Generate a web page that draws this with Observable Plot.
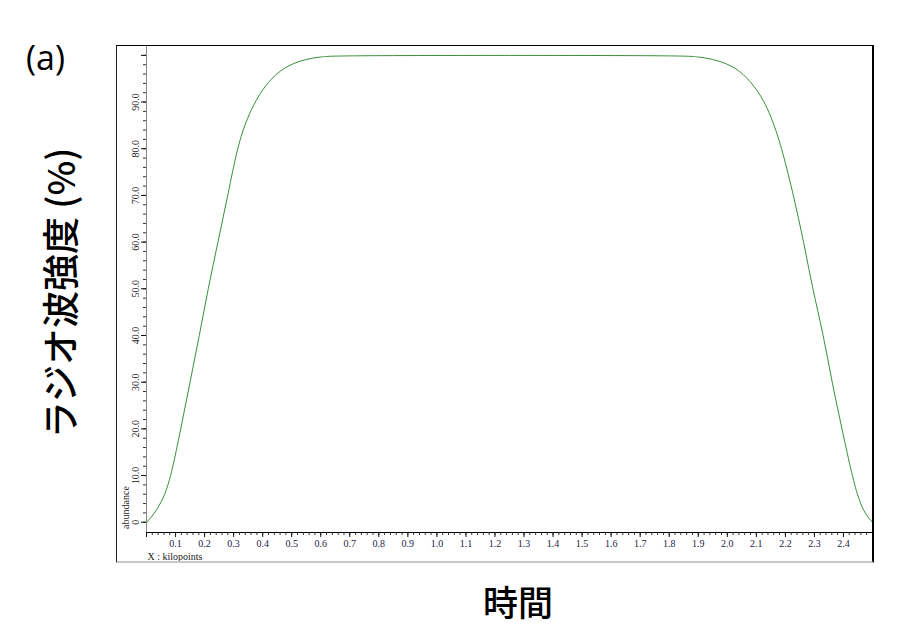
<!DOCTYPE html>
<html>
<head>
<meta charset="utf-8">
<script src="https://cdn.jsdelivr.net/npm/d3@7"></script>
<script src="https://cdn.jsdelivr.net/npm/@observablehq/plot@0.6"></script>
<style>
  body { margin: 0; background: #fff; }
  #page { position: relative; width: 912px; height: 641px; background: #fff; overflow: hidden; }
  #tag { position: absolute; left: 26px; top: 40px; font: 34px "Open Sans", "Noto Sans", sans-serif; line-height: 1; color: #000; }
  #ylab { position: absolute; left: 59px; top: 293px; transform: translate(-50%, -50%) rotate(-90deg);
          white-space: nowrap; font-family: "Noto Sans CJK JP", sans-serif; font-size: 37px; font-weight: 500; color: #000; line-height: 1; }
  #xlab { position: absolute; left: 518px; top: 600px; transform: translate(-50%, -50%);
          white-space: nowrap; font-family: "Noto Sans CJK JP", sans-serif; font-size: 35px; font-weight: 500; color: #000; line-height: 1; }
  #box { position: absolute; left: 116px; top: 45px; border-top: 1px solid #000; border-left: 1px solid #222;
         border-right: 2px solid #000; border-bottom: 2px solid #c8c8c8; }
  #box svg { display: block; }
</style>
</head>
<body>
<div id="page">
  <div id="tag">(a)</div>
  <div id="ylab">ラジオ波強度 (%)</div>
  <div id="box"></div>
  <div id="xlab">時間</div>
</div>
<script>
// Rising edge (x in kilopoints, y = abundance %)
const riseX = [0, 0.025, 0.06, 0.085, 0.118, 0.150, 0.182, 0.212, 0.246, 0.280, 0.312, 0.340, 0.370, 0.400, 0.430, 0.460, 0.500, 0.550, 0.600, 0.660];
const riseY = [0, 1.6, 5.2, 10, 20, 30, 40, 50, 60, 70, 80, 85.5, 89.6, 92.7, 95.0, 96.7, 98.2, 99.2, 99.7, 100];
// Falling edge
const fallX = [1.840, 1.900, 1.950, 2.000, 2.040, 2.070, 2.100, 2.131, 2.160, 2.189, 2.229, 2.264, 2.292, 2.332, 2.361, 2.396, 2.430, 2.453, 2.475, 2.500];
const fallY = [100, 99.7, 99.2, 98.2, 96.8, 95.0, 92.8, 89.7, 85.4, 79.8, 69.8, 59.8, 50.5, 39.8, 29.8, 19.7, 9.85, 4.8, 1.7, 0];

const yMajor = [0, 10, 20, 30, 40, 50, 60, 70, 80, 90, 100];
const yLabels = ["0", "10.0", "20.0", "30.0", "40.0", "50.0", "60.0", "70.0", "80.0", "90.0"];
const xLabels = ["0.1","0.2","0.3","0.4","0.5","0.6","0.7","0.8","0.9","1.0","1.1","1.2","1.3","1.4","1.5","1.6","1.7","1.8","1.9","2.0","2.1","2.2","2.3","2.4"];
const xMajor = [0, ...xLabels.map(Number)];
const xMinor = d3.range(0, 2.501, 0.02);
const yMinor = d3.range(0, 101, 2);

const xDomain = [0, 2.5];
const yDomain = [-2.2, 101.9];

const allY = [...riseY, ...fallY];
const data = [...riseX, ...fallX].map((x, i) => ({x, y: allY[i]}));
const yLab = yLabels.map((t, i) => ({y: yMajor[i], t}));
const xLab = xLabels.map(t => ({x: Number(t), t}));

const chart = Plot.plot({
  width: 755,
  height: 515,
  marginTop: 0,
  marginBottom: 29,
  marginLeft: 29,
  marginRight: 0,
  style: {fontFamily: "Liberation Serif, serif", fontSize: "10px", color: "#111", background: "#fff"},
  x: {domain: xDomain},
  y: {domain: yDomain},
  marks: [
    Plot.ruleX([0], {stroke: "#888", strokeWidth: 1}),
    Plot.ruleY([yDomain[0]], {stroke: "#000", strokeWidth: 1}),
    Plot.axisY(yMinor, {anchor: "left", tickSize: 3, tickFormat: () => "", label: null, stroke: "#333"}),
    Plot.axisY(yMajor, {anchor: "left", tickSize: 5, tickFormat: () => "", label: null, stroke: "#111"}),
    Plot.text(yLab, {y: "y", text: "t", frameAnchor: "left", dx: -11, rotate: -90, textAnchor: "middle", lineAnchor: "middle", fill: "#222"}),
    Plot.axisX(xMinor, {anchor: "bottom", tickSize: 3, tickFormat: () => "", label: null, stroke: "#333"}),
    Plot.axisX(xMajor, {anchor: "bottom", tickSize: 5, tickFormat: () => "", label: null, stroke: "#111"}),
    Plot.text(xLab, {x: "x", text: "t", frameAnchor: "bottom", dy: 11, lineAnchor: "middle", fill: "#1c2440"}),
    Plot.text(["abundance"], {frameAnchor: "bottom-left", dx: -21, dy: -25, rotate: -90, textAnchor: "middle", lineAnchor: "middle", fill: "#222"}),
    Plot.text(["X : kilopoints"], {frameAnchor: "bottom-left", dx: 1, dy: 24, textAnchor: "start", lineAnchor: "middle", fill: "#222"}),
    Plot.line(data, {x: "x", y: "y", stroke: "#3a8f3a", strokeWidth: 1, curve: "basis"})
  ]
});
document.getElementById("box").appendChild(chart);
</script>
</body>
</html>
